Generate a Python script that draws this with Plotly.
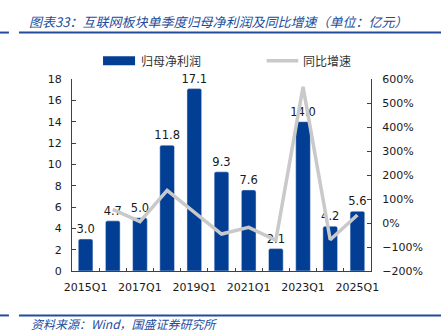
import plotly.graph_objects as go

categories = ["2015Q1", "2016Q1", "2017Q1", "2018Q1", "2019Q1", "2020Q1",
              "2021Q1", "2022Q1", "2023Q1", "2024Q1", "2025Q1"]
profit = [3.0, 4.7, 5.0, 11.8, 17.1, 9.3, 7.6, 2.1, 14.0, 4.2, 5.6]
yoy = [None, 57, 6, 136, 45, -46, -18, -72, 567, -70, 33]
tick_labels = ["2015Q1", "", "2017Q1", "", "2019Q1", "", "2021Q1", "",
               "2023Q1", "", "2025Q1"]
series_names = ["归母净利润", "同比增速"]

BLUE = "#023F94"
GRAY = "#C9C9C9"
TITLE_BLUE = "#234C9C"
AXIS = "#404040"
FONT = "DejaVu Sans"
CJK = "Noto Sans CJK SC"

# plot-area geometry in pixels (used for paper-coordinate decorations)
L, R, T, B = 72, 441 - 370.7, 79.3, 331 - 270.7
PW, PH = 441 - L - R, 331 - T - B


def px(xp):
    return (xp - L) / PW


def py(yp):
    return (331 - B - yp) / PH


fig = go.Figure()
fig.add_trace(go.Bar(
    x=categories, y=profit, name=series_names[0],
    marker=dict(color=BLUE, cornerradius=2),
    texttemplate="%{y:.1f}", textposition="outside", constraintext="none",
    textfont=dict(size=11.5, color="#1a1a1a", family=FONT),
    cliponaxis=False, showlegend=False, yaxis="y",
))
fig.add_trace(go.Scatter(
    x=categories, y=yoy, name=series_names[1], mode="lines",
    line=dict(color=GRAY, width=3.5),
    yaxis="y2", showlegend=False, connectgaps=False,
))

shapes = []
for yp in (33, 315):
    shapes.append(dict(type="line", xref="paper", yref="paper",
                       x0=px(0), x1=px(9), y0=py(yp), y1=py(yp),
                       line=dict(color=TITLE_BLUE, width=2)))
    shapes.append(dict(type="line", xref="paper", yref="paper",
                       x0=px(19), x1=px(441), y0=py(yp), y1=py(yp),
                       line=dict(color=TITLE_BLUE, width=2)))
# legend symbols
shapes.append(dict(type="rect", xref="paper", yref="paper",
                   x0=px(103), x1=px(135), y0=py(65.7), y1=py(56.7),
                   fillcolor=BLUE, line=dict(width=0)))
shapes.append(dict(type="line", xref="paper", yref="paper",
                   x0=px(266.5), x1=px(298), y0=py(61), y1=py(61),
                   line=dict(color=GRAY, width=3.5)))

annotations = [
    dict(text="<i>图表33：互联网板块单季度归母净利润及同比增速（单位：亿元）</i>",
         xref="paper", yref="paper", x=px(27), y=py(22), xanchor="left",
         yanchor="middle", showarrow=False,
         font=dict(size=13, color=TITLE_BLUE, family=CJK)),
    dict(text="<i>资料来源：Wind，国盛证券研究所</i>",
         xref="paper", yref="paper", x=px(29), y=py(323), xanchor="left",
         yanchor="middle", showarrow=False,
         font=dict(size=12, color=TITLE_BLUE, family=CJK)),
    dict(text=series_names[0], xref="paper", yref="paper", x=px(139),
         y=py(61), xanchor="left", yanchor="middle", showarrow=False,
         font=dict(size=12, color="#333333", family=CJK)),
    dict(text=series_names[1], xref="paper", yref="paper", x=px(301),
         y=py(61), xanchor="left", yanchor="middle", showarrow=False,
         font=dict(size=12, color="#333333", family=CJK)),
]

fig.update_layout(
    width=441, height=331,
    margin=dict(l=L, r=R, t=T, b=B, pad=0),
    paper_bgcolor="white", plot_bgcolor="white",
    font=dict(family=FONT, size=11, color="#1a1a1a"),
    bargap=0.46, showlegend=False,
    shapes=shapes, annotations=annotations,
    xaxis=dict(type="category", tickvals=categories, ticktext=tick_labels,
               tickson="boundaries", ticks="inside", ticklen=3,
               tickcolor=AXIS, showline=True, linecolor=AXIS, linewidth=1,
               showgrid=False, tickfont=dict(size=11), ticklabelstandoff=6,
               tickangle=0),
    yaxis=dict(range=[0, 18], dtick=2, showline=True, linecolor=AXIS,
               linewidth=1, ticks="inside", ticklen=4, tickcolor=AXIS,
               showgrid=False, zeroline=False, tickfont=dict(size=11),
               ticklabelstandoff=7),
    yaxis2=dict(range=[-200, 600], dtick=100, overlaying="y", side="right",
                showline=True, linecolor=AXIS, linewidth=1, ticks="inside",
                ticklen=4, tickcolor=AXIS, showgrid=False, zeroline=False,
                ticksuffix="%", tickfont=dict(size=11), ticklabelstandoff=8),
)

fig.write_html("out.html")
